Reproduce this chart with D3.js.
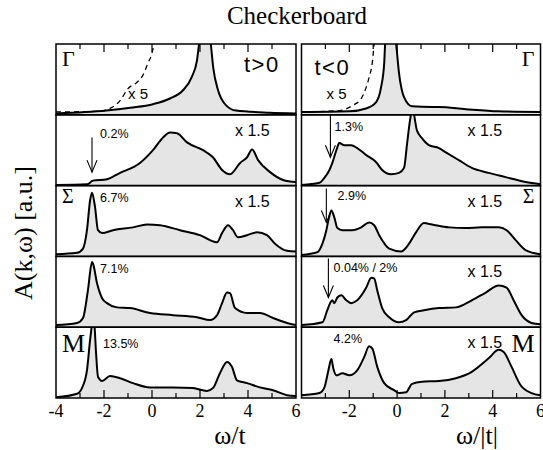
<!DOCTYPE html>
<html>
<head>
<meta charset="utf-8">
<script src="https://cdn.jsdelivr.net/npm/d3@7"></script>
<style>
  body { margin: 0; background: #fff; }
  svg { display: block; }
  .serif { font-family: "Liberation Serif", "DejaVu Serif", "Noto Serif", serif; }
  .sans { font-family: "Liberation Sans", Arial, Helvetica, sans-serif; }
</style>
</head>
<body>
<div id="chart"></div>
<script>
// spectra: [omega, A] with A in units of panel height
const leftGamma = [[-4,0.02],[-1.9,0.06],[-0.9,0.10],[0.04,0.15],[0.75,0.23],[1.3,0.35],[1.65,0.53],[1.875,0.77],[1.96,1.0],[2.2,1.6],[2.45,1.0],[2.55,0.67],[2.75,0.35],[3.1,0.13],[3.5,0.06],[4.9,0.03],[6,0.02]];
const leftGammaX5 = [[-4,0.04],[-2.2,0.05],[-1.75,0.09],[-1.33,0.2],[-1.0,0.37],[-0.625,0.46],[-0.375,0.56],[-0.17,0.73],[0.0,0.87],[0.08,1.0],[0.2,1.3]];
const left2 = [[-4,0.01],[-2.7,0.02],[-2.46,0.07],[-1.875,0.09],[-1.33,0.18],[-0.5,0.32],[0.04,0.5],[0.46,0.68],[0.75,0.75],[1.04,0.74],[1.46,0.61],[2.125,0.5],[2.54,0.4],[2.92,0.22],[3.25,0.16],[3.67,0.32],[3.96,0.4],[4.17,0.51],[4.42,0.36],[4.92,0.19],[5.46,0.08],[6,0.05]];
const leftSigma = [[-4,0.03],[-3.125,0.05],[-2.875,0.11],[-2.71,0.37],[-2.58,0.79],[-2.5,0.9],[-2.375,0.7],[-2.25,0.37],[-2.08,0.33],[-1.625,0.37],[-0.79,0.41],[-0.21,0.45],[0.33,0.44],[1.17,0.37],[2.0,0.3],[2.71,0.2],[2.92,0.33],[3.17,0.44],[3.375,0.37],[3.58,0.27],[3.96,0.3],[4.375,0.34],[4.79,0.3],[5.125,0.18],[5.625,0.08],[6,0.07]];
const left4 = [[-4,0.03],[-3.125,0.06],[-2.875,0.13],[-2.67,0.52],[-2.5,0.92],[-2.46,0.9],[-2.29,0.62],[-2.08,0.41],[-1.875,0.34],[-1.46,0.28],[-0.92,0.27],[-0.08,0.2],[0.875,0.17],[1.875,0.14],[2.42,0.1],[2.71,0.17],[2.92,0.34],[3.125,0.49],[3.25,0.48],[3.46,0.27],[3.96,0.2],[4.5,0.2],[5.04,0.13],[5.625,0.06],[6,0.03]];
const leftM = [[-4,0.01],[-3.125,0.06],[-2.92,0.14],[-2.71,0.39],[-2.58,0.82],[-2.5,1.05],[-2.45,1.2],[-2.4,1.05],[-2.33,0.63],[-2.25,0.3],[-2.08,0.24],[-1.75,0.31],[-1.33,0.28],[-0.79,0.21],[-0.08,0.15],[0.875,0.15],[1.71,0.14],[2.29,0.1],[2.54,0.14],[2.83,0.35],[3.125,0.51],[3.33,0.44],[3.54,0.25],[3.96,0.21],[4.5,0.15],[5.04,0.11],[5.625,0.04],[6,0.03]];

const rightGamma = [[-4,0.04],[-2.0,0.05],[-1.3,0.09],[-0.875,0.18],[-0.67,0.39],[-0.54,0.73],[-0.5,1.0],[-0.25,1.5],[-0.04,1.0],[0.08,0.59],[0.29,0.25],[0.625,0.12],[1.46,0.11],[1.75,0.11],[2.875,0.08],[4.25,0.05],[6,0.04]];
const rightGammaX5 = [[-4,0.04],[-2.4,0.06],[-1.875,0.13],[-1.5,0.23],[-1.3,0.38],[-1.17,0.53],[-1.04,0.73],[-0.96,1.0],[-0.85,1.3]];
const right2 = [[-4,0.01],[-3.25,0.04],[-3.04,0.11],[-2.83,0.22],[-2.71,0.32],[-2.54,0.5],[-2.42,0.6],[-2.21,0.57],[-1.92,0.57],[-1.67,0.53],[-1.29,0.43],[-0.875,0.33],[-0.625,0.22],[-0.25,0.16],[0.08,0.18],[0.29,0.25],[0.42,0.6],[0.54,0.92],[0.65,1.1],[0.71,1.0],[0.83,0.78],[1.04,0.67],[1.33,0.57],[1.75,0.53],[2.04,0.47],[2.58,0.36],[3.125,0.25],[3.83,0.18],[4.54,0.12],[5.375,0.05],[6,0.02]];
const rightSigma = [[-4,0.02],[-3.33,0.06],[-3.125,0.18],[-2.96,0.37],[-2.875,0.51],[-2.75,0.65],[-2.625,0.55],[-2.5,0.4],[-2.29,0.37],[-1.875,0.37],[-1.5,0.41],[-1.17,0.48],[-0.96,0.44],[-0.75,0.3],[-0.33,0.11],[0.17,0.07],[0.5,0.18],[0.79,0.34],[1.125,0.47],[1.46,0.45],[2.17,0.41],[2.875,0.4],[3.54,0.41],[4.25,0.41],[4.58,0.37],[4.96,0.23],[5.375,0.09],[6,0.03]];
const right4 = [[-4,0.03],[-3.125,0.07],[-2.92,0.24],[-2.79,0.35],[-2.71,0.38],[-2.625,0.34],[-2.5,0.42],[-2.33,0.45],[-2.125,0.38],[-1.92,0.34],[-1.67,0.38],[-1.29,0.56],[-1.08,0.7],[-0.96,0.69],[-0.83,0.52],[-0.625,0.27],[-0.33,0.14],[0.08,0.07],[0.375,0.1],[0.71,0.21],[1.125,0.24],[1.75,0.27],[2.46,0.28],[3.125,0.38],[3.71,0.49],[4.25,0.59],[4.58,0.56],[4.875,0.38],[5.21,0.17],[5.625,0.06],[6,0.04]];
const rightM = [[-4,0.04],[-3.25,0.07],[-3.04,0.15],[-2.875,0.39],[-2.75,0.55],[-2.67,0.42],[-2.54,0.32],[-2.29,0.35],[-2.0,0.32],[-1.67,0.39],[-1.375,0.58],[-1.17,0.73],[-1.04,0.7],[-0.83,0.44],[-0.54,0.21],[-0.125,0.11],[0.08,0.07],[0.375,0.08],[0.625,0.2],[1.04,0.23],[1.75,0.24],[2.46,0.28],[3.125,0.37],[3.83,0.56],[4.25,0.68],[4.46,0.65],[4.79,0.44],[5.17,0.18],[5.625,0.07],[6,0.04]];

const leftTickLabels = [-4, -2, 0, 2, 4, 6];
const rightTickLabels = [-2, 0, 2, 4, 6];
const minorTicks = [-3, -2, -1, 0, 1, 2, 3, 4, 5];

const leftSymbols = ["Γ", "", "Σ", "", "M"];
const rightSymbols = ["Γ", "", "Σ", "", "M"];
const leftFactors = ["x 5", "x 1.5", "x 1.5", "", ""];
const rightFactors = ["x 5", "x 1.5", "x 1.5", "x 1.5", "x 1.5"];
const leftWeights = ["", "0.2%", "6.7%", "7.1%", "13.5%"];
const rightWeights = ["", "1.3%", "2.9%", "0.04% / 2%", "4.2%"];
// arrows marking the weight: [row, omega, from A, to A]
const leftArrows = [[1, -2.5, 0.68, 0.19]];
const rightArrows = [[1, -2.79, 1.0, 0.4], [2, -2.96, 0.96, 0.48], [3, -2.875, 0.97, 0.42]];

const width = 543, height = 450;
const plotTop = 44, plotBottom = 398, nRows = 5;
const rowH = (plotBottom - plotTop) / nRows;

const svg = d3.select("#chart").append("svg")
  .attr("width", width)
  .attr("height", height);

const cols = [
  { x0: 56, x1: 296, spectra: [leftGamma, left2, leftSigma, left4, leftM], x5: leftGammaX5,
    symbols: leftSymbols, factors: leftFactors, weights: leftWeights, arrows: leftArrows,
    ticks: leftTickLabels, sign: "t>0", label: "ω/t" },
  { x0: 301.5, x1: 540.5, spectra: [rightGamma, right2, rightSigma, right4, rightM], x5: rightGammaX5,
    symbols: rightSymbols, factors: rightFactors, weights: rightWeights, arrows: rightArrows,
    ticks: rightTickLabels, sign: "t<0", label: "ω/|t|" }
];

// hand placed label offsets inside each panel
const symbolPos = [[6, 22, 22], null, [6, 17, 20], null, [6, 25, 26]];
const weightPos = [[[44, 23], [44, 16], [44, 17], [47, 21]], [[33, 16], [36, 14], [32, 16], [32, 16]]];

svg.append("text")
  .attr("class", "serif")
  .attr("x", 297).attr("y", 24)
  .attr("text-anchor", "middle")
  .attr("font-size", 25)
  .text("Checkerboard");

svg.append("text")
  .attr("class", "serif")
  .attr("transform", `translate(32,${(plotTop + plotBottom) / 2 + 12}) rotate(-90)`)
  .attr("text-anchor", "middle")
  .attr("font-size", 26)
  .text("A(k,ω) [a.u.]");

const defs = svg.append("defs");

cols.forEach((c, ci) => {
  const x = d3.scaleLinear().domain([-4, 6]).range([c.x0, c.x1]);

  c.spectra.forEach((data, r) => {
    const y0 = plotTop + (r + 1) * rowH, y1 = plotTop + r * rowH;
    const y = d3.scaleLinear().domain([0, 1]).range([y0, y1]);
    const id = `clip-${ci}-${r}`;
    defs.append("clipPath").attr("id", id).append("rect")
      .attr("x", c.x0).attr("y", y1).attr("width", c.x1 - c.x0).attr("height", rowH);

    const g = svg.append("g").attr("clip-path", `url(#${id})`);
    const area = d3.area().x(d => x(d[0])).y0(y(0)).y1(d => y(d[1])).curve(d3.curveMonotoneX);
    const line = d3.line().x(d => x(d[0])).y(d => y(d[1])).curve(d3.curveMonotoneX);

    g.append("path").datum(data).attr("d", area).attr("fill", "#e5e5e5");
    if (r === 0) {
      g.append("path").datum(c.x5).attr("d", line)
        .attr("fill", "none").attr("stroke", "#000").attr("stroke-width", 1.3)
        .attr("stroke-dasharray", "5,4");
    }
    g.append("path").datum(data).attr("d", line)
      .attr("fill", "none").attr("stroke", "#000").attr("stroke-width", 2)
      .attr("stroke-linejoin", "round");

    svg.append("rect")
      .attr("x", c.x0).attr("y", y1).attr("width", c.x1 - c.x0).attr("height", rowH)
      .attr("fill", "none").attr("stroke", "#000").attr("stroke-width", 1.5);

    // symbols
    if (c.symbols[r]) {
      const p = symbolPos[r];
      svg.append("text")
        .attr("class", "serif")
        .attr("x", ci === 0 ? c.x0 + p[0] : c.x1 - p[0])
        .attr("y", y1 + p[1])
        .attr("text-anchor", ci === 0 ? "start" : "end")
        .attr("font-size", p[2])
        .text(c.symbols[r]);
    }
    // scale factors
    if (c.factors[r]) {
      const isX5 = r === 0;
      svg.append("text")
        .attr("class", "sans")
        .attr("x", isX5 ? (ci === 0 ? c.x0 + 72 : c.x0 + 25) : c.x0 + (ci === 0 ? 179 : 166))
        .attr("y", y1 + (isX5 ? 55 : 21))
        .attr("font-size", isX5 ? 15 : 16)
        .text(c.factors[r]);
    }
    if (c.weights[r]) {
      const p = weightPos[ci][r - 1];
      svg.append("text")
        .attr("class", "sans")
        .attr("x", c.x0 + p[0]).attr("y", y1 + p[1])
        .attr("font-size", 12.5)
        .text(c.weights[r]);
    }
  });

  // arrows
  c.arrows.forEach(([r, w, a0, a1]) => {
    const y = d3.scaleLinear().domain([0, 1]).range([plotTop + (r + 1) * rowH, plotTop + r * rowH]);
    const ax = x(w);
    const g = svg.append("g").attr("fill", "none").attr("stroke", "#000").attr("stroke-width", 1.1);
    g.append("line").attr("x1", ax).attr("x2", ax).attr("y1", y(a0)).attr("y2", y(a1));
    g.append("path").attr("d", `M${ax - 5},${y(a1) - 12}L${ax},${y(a1)}L${ax + 5},${y(a1) - 12}`);
  });

  // sign label
  svg.append("text")
    .attr("class", "sans")
    .attr("x", ci === 0 ? c.x0 + 188 : c.x0 + 13)
    .attr("y", plotTop + (ci === 0 ? 28 : 31))
    .attr("font-size", 22)
    .attr("letter-spacing", 1.5)
    .text(c.sign);

  // ticks, top of first row and bottom of last row
  const tickG = svg.append("g").attr("stroke", "#000").attr("stroke-width", 1.2);
  minorTicks.forEach(t => {
    const len = t % 2 === 0 ? 8 : 5;
    tickG.append("line").attr("x1", x(t)).attr("x2", x(t)).attr("y1", plotTop).attr("y2", plotTop + len);
    tickG.append("line").attr("x1", x(t)).attr("x2", x(t)).attr("y1", plotBottom).attr("y2", plotBottom - len);
  });

  svg.append("g").selectAll("text").data(c.ticks).join("text")
    .attr("class", "serif")
    .attr("x", d => x(d)).attr("y", plotBottom + 19)
    .attr("text-anchor", "middle")
    .attr("font-size", 18)
    .text(d => String(d));

  svg.append("text")
    .attr("class", "serif")
    .attr("x", ci === 0 ? 230 : 477).attr("y", plotBottom + 46)
    .attr("text-anchor", "middle")
    .attr("font-size", 26)
    .text(c.label);
});
</script>
</body>
</html>
